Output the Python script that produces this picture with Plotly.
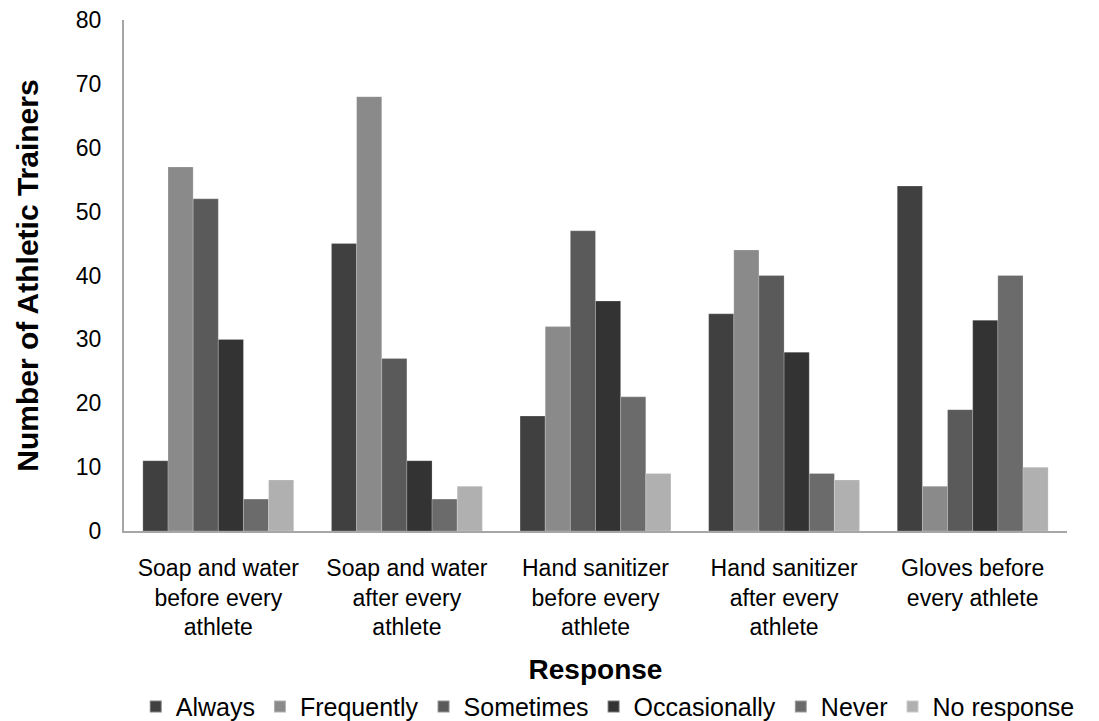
import plotly.graph_objects as go

categories = [
    "Soap and water<br>before every<br>athlete",
    "Soap and water<br>after every<br>athlete",
    "Hand sanitizer<br>before every<br>athlete",
    "Hand sanitizer<br>after every<br>athlete",
    "Gloves before<br>every athlete",
]
series_names = ["Always", "Frequently", "Sometimes", "Occasionally", "Never", "No response"]
always = [11, 45, 18, 34, 54]
frequently = [57, 68, 32, 44, 7]
sometimes = [52, 27, 47, 40, 19]
occasionally = [30, 11, 36, 28, 33]
never = [5, 5, 21, 9, 40]
no_response = [8, 7, 9, 8, 10]
y_ticks = [0, 10, 20, 30, 40, 50, 60, 70, 80]

series_values = [always, frequently, sometimes, occasionally, never, no_response]
colors = ["#404040", "#8a8a8a", "#5a5a5a", "#333333", "#6b6b6b", "#b0b0b0"]

FONT = "Liberation Sans, Arial, Helvetica, sans-serif"

fig = go.Figure()
for name, vals, col in zip(series_names, series_values, colors):
    fig.add_trace(go.Bar(
        name=name, x=categories, y=vals,
        marker=dict(color=col, line=dict(color="rgba(255,255,255,0.35)", width=0.6)),
    ))

fig.update_layout(
    width=1091, height=713,
    barmode="group", bargap=0.2, bargroupgap=0,
    plot_bgcolor="white", paper_bgcolor="white",
    margin=dict(l=116, r=32, t=12, b=190, autoexpand=False),
    font=dict(family=FONT, color="black", size=23),
    showlegend=True,
    legend=dict(
        orientation="h", x=0.513, xanchor="center", y=-0.344, yanchor="middle",
        font=dict(size=25, family=FONT), itemsizing="constant",
        traceorder="normal", itemwidth=30,
    ),
)
fig.update_xaxes(
    automargin=False, ticklabeloverflow="allow",
    showline=True, linecolor="#a6a6a6", linewidth=2, showgrid=False,
    ticks="", ticklabelstandoff=15, tickfont=dict(size=23, family=FONT),
    title=dict(text="<b>Response</b>", font=dict(size=28, family=FONT), standoff=20),
)
fig.update_yaxes(
    automargin=False, ticklabeloverflow="allow",
    range=[0, 80], tickvals=y_ticks, showline=True, linecolor="#a6a6a6", linewidth=2,
    showgrid=False, zeroline=False, ticks="", ticklabelstandoff=16,
    tickfont=dict(size=23, family=FONT),
    title=dict(text="<b>Number of Athletic Trainers</b>", font=dict(size=30, family=FONT), standoff=28),
)

fig.write_html("out.html")
